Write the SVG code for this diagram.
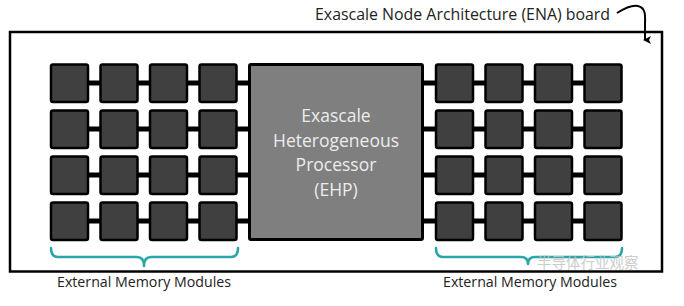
<svg xmlns="http://www.w3.org/2000/svg" width="684" height="306" viewBox="0 0 684 306">
<defs>
<style>
.mod{fill:#404040;stroke:#000;stroke-width:2.5}
.proc{fill:#7f7f7f;stroke:#000;stroke-width:3}
.bus{stroke:#000;stroke-width:5;fill:none}
.brace{fill:none;stroke:#2aa5aa;stroke-width:2.5;stroke-linecap:round;stroke-linejoin:round}
.lbl{font-family:"Open Sans","Liberation Sans",sans-serif;fill:#222;font-size:14.2px}
.ptxt{font-family:"Open Sans","Liberation Sans",sans-serif;fill:#ececec;font-size:17.5px;text-anchor:middle}
</style>
<marker id="ah" markerWidth="8" markerHeight="8" refX="4" refY="6" orient="auto" markerUnits="userSpaceOnUse" viewBox="0 0 8 8">
<path d="M0,0 L4,8 L8,0 L4,2 Z" fill="#000"/>
</marker>
</defs>
<rect width="684" height="306" fill="#fff"/>
<g id="board">
<rect x="10" y="32" width="652" height="239.5" fill="none" stroke="#000" stroke-width="2.5"/>
</g>
<g id="board-label">
<text x="315" y="20" style="font-family:'Open Sans','Liberation Sans',sans-serif;font-size:15.9px;fill:#222">Exascale Node Architecture (ENA) board</text>
<path d="M617,13 C628,6 638,3 643,9 C646,13 645,18 645,24 L645,40" fill="none" stroke="#000" stroke-width="2" marker-end="url(#ah)"/>
</g>
<g id="connectors">
<line class="bus" x1="70" y1="83" x2="250" y2="83"/>
<line class="bus" x1="70" y1="129" x2="250" y2="129"/>
<line class="bus" x1="70" y1="175" x2="250" y2="175"/>
<line class="bus" x1="70" y1="221" x2="250" y2="221"/>
<line class="bus" x1="422" y1="83" x2="603" y2="83"/>
<line class="bus" x1="422" y1="129" x2="603" y2="129"/>
<line class="bus" x1="422" y1="175" x2="603" y2="175"/>
<line class="bus" x1="422" y1="221" x2="603" y2="221"/>
</g>
<g id="ehp">
<rect class="proc" x="249.5" y="64.5" width="173" height="175" rx="1.5"/>
<text class="ptxt" x="336" y="122">Exascale</text>
<text class="ptxt" x="336" y="146.5">Heterogeneous</text>
<text class="ptxt" x="336" y="171">Processor</text>
<text class="ptxt" x="336" y="195.5">(EHP)</text>
</g>
<g id="memory-left">
<rect class="mod" x="51" y="64.5" width="37" height="37.5" rx="2"/>
<rect class="mod" x="100.5" y="64.5" width="37" height="37.5" rx="2"/>
<rect class="mod" x="150" y="64.5" width="37" height="37.5" rx="2"/>
<rect class="mod" x="199.5" y="64.5" width="37" height="37.5" rx="2"/>
<rect class="mod" x="51" y="110.5" width="37" height="37.5" rx="2"/>
<rect class="mod" x="100.5" y="110.5" width="37" height="37.5" rx="2"/>
<rect class="mod" x="150" y="110.5" width="37" height="37.5" rx="2"/>
<rect class="mod" x="199.5" y="110.5" width="37" height="37.5" rx="2"/>
<rect class="mod" x="51" y="156.5" width="37" height="37.5" rx="2"/>
<rect class="mod" x="100.5" y="156.5" width="37" height="37.5" rx="2"/>
<rect class="mod" x="150" y="156.5" width="37" height="37.5" rx="2"/>
<rect class="mod" x="199.5" y="156.5" width="37" height="37.5" rx="2"/>
<rect class="mod" x="51" y="202.5" width="37" height="37.5" rx="2"/>
<rect class="mod" x="100.5" y="202.5" width="37" height="37.5" rx="2"/>
<rect class="mod" x="150" y="202.5" width="37" height="37.5" rx="2"/>
<rect class="mod" x="199.5" y="202.5" width="37" height="37.5" rx="2"/>
</g>
<g id="memory-right">
<rect class="mod" x="436" y="64.5" width="37" height="37.5" rx="2"/>
<rect class="mod" x="485.5" y="64.5" width="37" height="37.5" rx="2"/>
<rect class="mod" x="535" y="64.5" width="37" height="37.5" rx="2"/>
<rect class="mod" x="584.5" y="64.5" width="37" height="37.5" rx="2"/>
<rect class="mod" x="436" y="110.5" width="37" height="37.5" rx="2"/>
<rect class="mod" x="485.5" y="110.5" width="37" height="37.5" rx="2"/>
<rect class="mod" x="535" y="110.5" width="37" height="37.5" rx="2"/>
<rect class="mod" x="584.5" y="110.5" width="37" height="37.5" rx="2"/>
<rect class="mod" x="436" y="156.5" width="37" height="37.5" rx="2"/>
<rect class="mod" x="485.5" y="156.5" width="37" height="37.5" rx="2"/>
<rect class="mod" x="535" y="156.5" width="37" height="37.5" rx="2"/>
<rect class="mod" x="584.5" y="156.5" width="37" height="37.5" rx="2"/>
<rect class="mod" x="436" y="202.5" width="37" height="37.5" rx="2"/>
<rect class="mod" x="485.5" y="202.5" width="37" height="37.5" rx="2"/>
<rect class="mod" x="535" y="202.5" width="37" height="37.5" rx="2"/>
<rect class="mod" x="584.5" y="202.5" width="37" height="37.5" rx="2"/>
</g>
<g id="brace-left">
<path class="brace" d="M51,248 Q51,257 58,257 L137,257 Q144,257 144,266 Q144,257 151,257 L231,257 Q238,257 238,248"/>
<text class="lbl" x="57" y="287">External Memory Modules</text>
</g>
<g id="brace-right">
<path class="brace" d="M436,248 Q436,257 443,257 L521,257 Q528,257 528,264 Q528,257 535,257 L615,257 Q622,257 622,248"/>
<text class="lbl" x="443" y="287">External Memory Modules</text>
</g>
<g id="watermark">
<text x="537" y="268" style="font-family:'Noto Sans CJK SC',sans-serif;font-size:14.5px;fill:#c4c4c4;opacity:0.85">半导体行业观察</text>
</g>
</svg>
